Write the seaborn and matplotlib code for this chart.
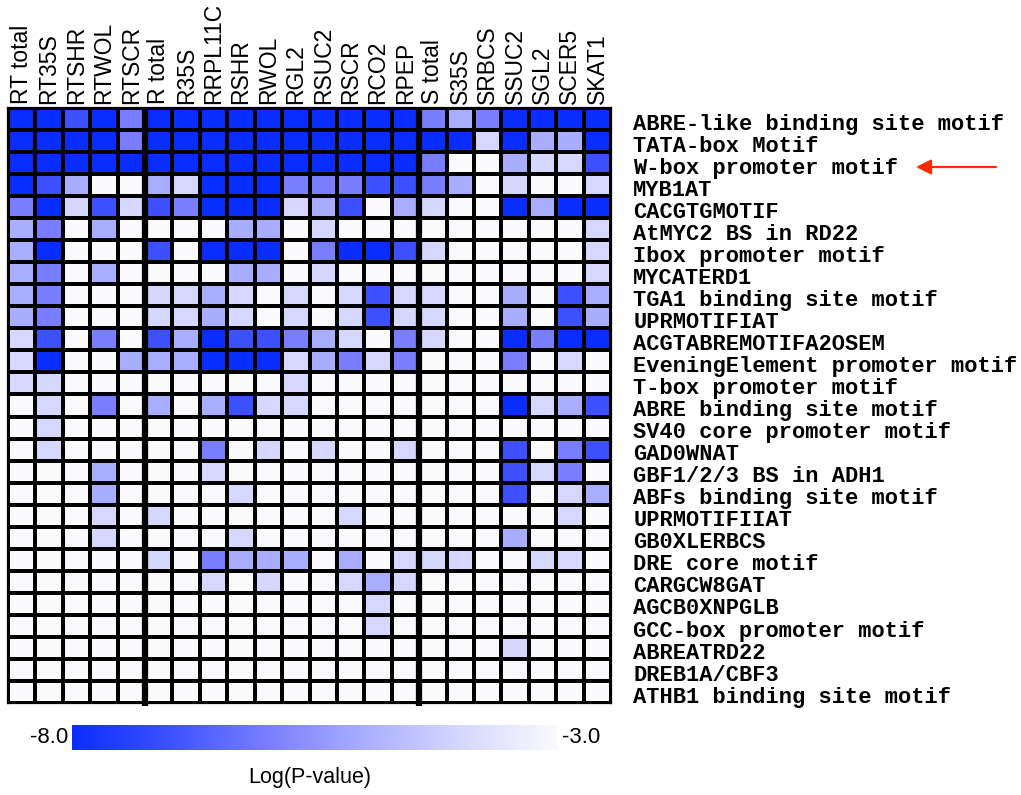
import numpy as np
import pandas as pd
import matplotlib
matplotlib.use("Agg")
import matplotlib.pyplot as plt
import seaborn as sns
from matplotlib.colors import LinearSegmentedColormap

# Sample columns (three tissue groups)
rt_columns = ["RT total", "RT35S", "RTSHR", "RTWOL", "RTSCR"]
r_columns = ["R total", "R35S", "RRPL11C", "RSHR", "RWOL", "RGL2",
             "RSUC2", "RSCR", "RCO2", "RPEP"]
s_columns = ["S total", "S35S", "SRBCS", "SSUC2", "SGL2", "SCER5", "SKAT1"]

motifs = [
    "ABRE-like binding site motif", "TATA-box Motif", "W-box promoter motif",
    "MYB1AT", "CACGTGMOTIF", "AtMYC2 BS in RD22", "Ibox promoter motif",
    "MYCATERD1", "TGA1 binding site motif", "UPRMOTIFIAT",
    "ACGTABREMOTIFA2OSEM", "EveningElement promoter motif",
    "T-box promoter motif", "ABRE binding site motif",
    "SV40 core promoter motif", "GAD0WNAT", "GBF1/2/3 BS in ADH1",
    "ABFs binding site motif", "UPRMOTIFIIAT", "GB0XLERBCS",
    "DRE core motif", "CARGCW8GAT", "AGCB0XNPGLB", "GCC-box promoter motif",
    "ABREATRD22", "DREB1A/CBF3", "ATHB1 binding site motif",
]

# Log(P-value) per motif (rows) and sample (columns); -3 = not enriched
rt_logp = [
    [-8, -8, -7, -8, -6], [-8, -8, -8, -8, -6], [-8, -8, -8, -8, -8],
    [-8, -7, -5, -3, -3], [-6, -8, -4, -7, -4], [-5, -6, -3, -5, -3],
    [-5, -8, -3, -3, -3], [-5, -6, -3, -5, -3], [-5, -6, -3, -3, -3],
    [-5, -6, -3, -3, -3], [-4, -7, -3, -6, -3], [-4, -8, -3, -3, -5],
    [-4, -4, -3, -3, -3], [-3, -4, -3, -6, -3], [-3, -4, -3, -3, -3],
    [-3, -4, -3, -3, -3], [-3, -3, -3, -5, -3], [-3, -3, -3, -5, -3],
    [-3, -3, -3, -4, -3], [-3, -3, -3, -4, -3], [-3, -3, -3, -3, -3],
    [-3, -3, -3, -3, -3], [-3, -3, -3, -3, -3], [-3, -3, -3, -3, -3],
    [-3, -3, -3, -3, -3], [-3, -3, -3, -3, -3], [-3, -3, -3, -3, -3],
]
r_logp = [
    [-8, -8, -8, -8, -8, -8, -8, -8, -8, -8],
    [-8, -8, -8, -8, -8, -8, -8, -8, -8, -8],
    [-8, -8, -8, -8, -8, -8, -8, -8, -8, -8],
    [-5, -4, -8, -8, -8, -6, -6, -6, -7, -7],
    [-7, -6, -8, -8, -8, -4, -5, -7, -3, -5],
    [-3, -3, -3, -5, -5, -3, -4, -3, -3, -3],
    [-7, -3, -8, -8, -8, -3, -6, -8, -8, -7],
    [-3, -3, -3, -5, -5, -3, -4, -3, -3, -3],
    [-4, -4, -5, -4, -3, -4, -3, -4, -7, -4],
    [-4, -4, -5, -4, -3, -4, -3, -4, -7, -4],
    [-7, -5, -8, -7, -7, -6, -5, -4, -3, -6],
    [-5, -5, -8, -8, -8, -4, -5, -6, -4, -6],
    [-3, -3, -3, -3, -3, -4, -3, -3, -3, -3],
    [-5, -3, -5, -7, -4, -4, -3, -3, -3, -3],
    [-3, -3, -3, -3, -3, -3, -3, -3, -3, -3],
    [-3, -3, -6, -3, -4, -3, -4, -3, -3, -4],
    [-3, -3, -4, -3, -3, -3, -3, -3, -3, -3],
    [-3, -3, -3, -4, -3, -3, -3, -3, -3, -3],
    [-4, -3, -3, -3, -3, -3, -3, -4, -3, -3],
    [-3, -3, -3, -4, -3, -3, -3, -3, -3, -3],
    [-4, -3, -6, -5, -5, -5, -3, -5, -3, -4],
    [-3, -3, -4, -3, -4, -3, -3, -4, -5, -4],
    [-3, -3, -3, -3, -3, -3, -3, -3, -4, -3],
    [-3, -3, -3, -3, -3, -3, -3, -3, -4, -3],
    [-3, -3, -3, -3, -3, -3, -3, -3, -3, -3],
    [-3, -3, -3, -3, -3, -3, -3, -3, -3, -3],
    [-3, -3, -3, -3, -3, -3, -3, -3, -3, -3],
]
s_logp = [
    [-6, -5, -6, -8, -8, -8, -8], [-8, -8, -4, -8, -5, -5, -8],
    [-6, -3, -3, -5, -4, -4, -7], [-6, -5, -3, -4, -3, -3, -4],
    [-4, -3, -3, -8, -5, -8, -8], [-3, -3, -3, -3, -3, -3, -4],
    [-4, -3, -3, -3, -3, -3, -4], [-3, -3, -3, -3, -3, -3, -4],
    [-4, -3, -3, -5, -3, -7, -5], [-4, -3, -3, -5, -3, -7, -5],
    [-4, -3, -3, -8, -6, -8, -8], [-3, -3, -3, -6, -3, -4, -3],
    [-3, -3, -3, -3, -3, -3, -3], [-3, -3, -3, -8, -4, -5, -7],
    [-3, -3, -3, -3, -3, -3, -3], [-3, -3, -3, -7, -3, -6, -7],
    [-3, -3, -3, -7, -4, -6, -3], [-3, -3, -3, -7, -3, -4, -5],
    [-3, -3, -3, -3, -3, -4, -3], [-3, -3, -3, -5, -3, -3, -3],
    [-4, -4, -3, -3, -4, -4, -3], [-3, -3, -3, -3, -3, -3, -3],
    [-3, -3, -3, -3, -3, -3, -3], [-3, -3, -3, -3, -3, -3, -3],
    [-3, -3, -3, -4, -3, -3, -3], [-3, -3, -3, -3, -3, -3, -3],
    [-3, -3, -3, -3, -3, -3, -3],
]

columns = rt_columns + r_columns + s_columns
values = np.hstack([np.array(rt_logp), np.array(r_logp), np.array(s_logp)]).astype(float)
df = pd.DataFrame(values, index=motifs, columns=columns)

cmap = LinearSegmentedColormap.from_list(
    "logp",
    [(0.0, "#0a2dff"), (0.2, "#3d50ff"), (0.4, "#787eff"),
     (0.6, "#a9adff"), (0.8, "#d5d7ff"), (1.0, "#fafafc")],
)

fig = plt.figure(figsize=(10.21, 7.95), dpi=100)
W, H = 1021, 795
ax = fig.add_axes([8 / W, 1 - 703 / H, (611 - 8) / W, (703 - 108) / H])
cax = fig.add_axes([72 / W, 1 - 750 / H, (558 - 72) / W, 25 / H])

sns.heatmap(df, ax=ax, cmap=cmap, vmin=-8, vmax=-3,
            linewidths=1.6, linecolor="black",
            cbar=True, cbar_ax=cax, cbar_kws={"orientation": "horizontal"})

# Column labels on top, rotated
ax.xaxis.tick_top()
ax.set_xticks(np.arange(len(columns)) + 0.5)
ax.set_xticklabels(columns, rotation=90, fontfamily="Liberation Sans",
                   fontsize=16.5, va="bottom")
# Motif labels on the right
ax.yaxis.tick_right()
ax.set_yticks(np.arange(len(motifs)) + 0.62)
ax.set_yticklabels(motifs, rotation=0, fontfamily="Liberation Mono",
                   fontweight="bold", fontsize=15.8, ha="left")
ax.tick_params(axis="x", length=0, pad=3)
ax.tick_params(axis="y", length=0, pad=16)
ax.set_xlabel("")
ax.set_ylabel("")
for sp in ax.spines.values():
    sp.set_visible(True)
    sp.set_linewidth(1.6)
    sp.set_color("black")

# Thick separators between the tissue groups
n_rows = len(motifs)
for xsep in (len(rt_columns), len(rt_columns) + len(r_columns)):
    ax.axvline(xsep, ymin=-0.005, ymax=1.0, color="black", lw=4.5,
               clip_on=False, solid_capstyle="butt", zorder=10)

# Colorbar styling
cbar = ax.collections[0].colorbar
cbar.outline.set_visible(False)
cax.set_xticks([])
cax.set_yticks([])
cax.text(-0.008, 0.5, "-8.0", transform=cax.transAxes, ha="right", va="center",
         fontfamily="Liberation Sans", fontsize=16)
cax.text(1.008, 0.5, "-3.0", transform=cax.transAxes, ha="left", va="center",
         fontfamily="Liberation Sans", fontsize=16)
fig.text(310 / W, 1 - 777 / H, "Log(P-value)", ha="center", va="center",
         fontfamily="Liberation Sans", fontsize=15.5)

# Arrow pointing at the W-box row
ax.annotate("", xy=(916 / W, 1 - 167 / H), xytext=(996 / W, 1 - 167 / H),
            xycoords="figure fraction", textcoords="figure fraction",
            arrowprops=dict(arrowstyle="-|>,head_length=0.9,head_width=0.45",
                            color="#ff2a00", lw=1.6, shrinkA=0, shrinkB=0))

fig.savefig("out.png", dpi=100)
